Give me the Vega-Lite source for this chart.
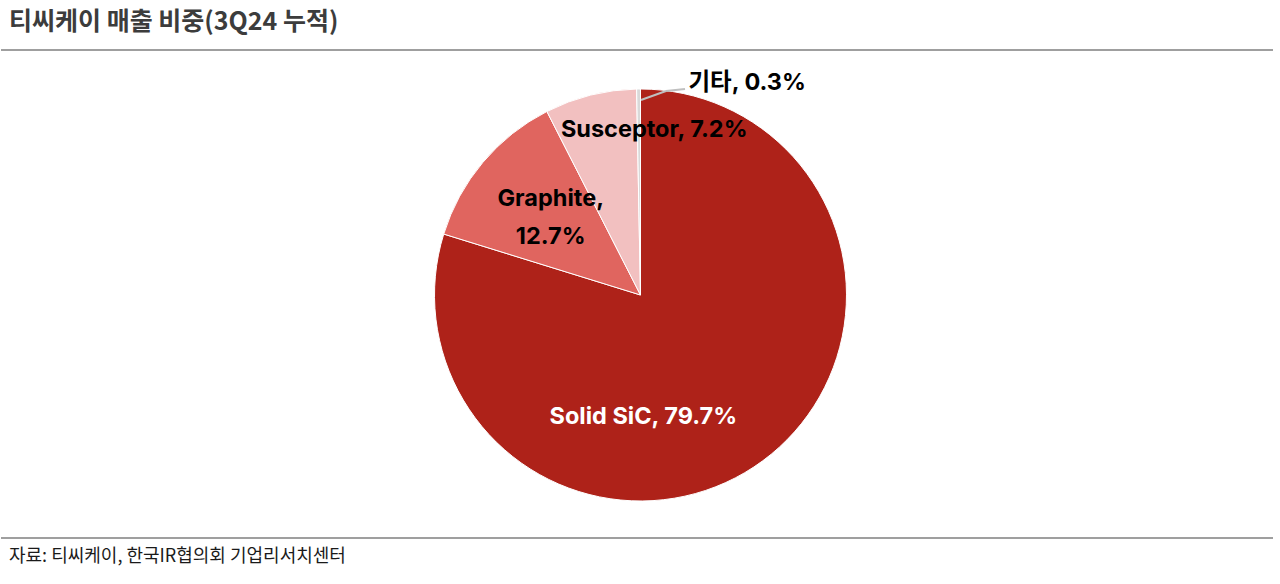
{
  "$schema": "https://vega.github.io/schema/vega-lite/v6.json",
  "width": 1280,
  "height": 584,
  "autosize": {"type": "fit", "contains": "padding"},
  "padding": {"top": 6, "left": 0, "right": 0, "bottom": 0},
  "background": "white",
  "config": {"view": {"stroke": null}},
  "datasets": {
    "sales": [
      {"category": "Solid SiC", "share": 79.7, "label": "Solid SiC, 79.7%"},
      {"category": "Graphite", "share": 12.7, "label": "Graphite,\n12.7%"},
      {"category": "Susceptor", "share": 7.2, "label": "Susceptor, 7.2%"},
      {"category": "기타", "share": 0.3, "label": "기타, 0.3%"}
    ],
    "header": [
      {"title": "티씨케이 매출 비중(3Q24 누적)", "source": "자료: 티씨케이, 한국IR협의회 기업리서치센터"}
    ]
  },
  "data": {"name": "sales"},
  "layer": [
    {
      "mark": {"type": "arc", "outerRadius": 206, "stroke": "white", "strokeWidth": 1},
      "encoding": {
        "theta": {"field": "share", "type": "quantitative", "stack": true},
        "order": {"field": "share", "type": "quantitative", "sort": "descending"},
        "color": {
          "field": "category", "type": "nominal", "legend": null,
          "scale": {"domain": ["Solid SiC", "Graphite", "Susceptor", "기타"], "range": ["#AE2219", "#E0655F", "#F2C0C0", "#D9D9D9"]}
        }
      }
    },
    {
      "mark": {"type": "text", "fontSize": 23.5, "fontWeight": "bold", "font": "Inter, Noto Sans CJK KR", "color": "white", "align": "center", "baseline": "middle", "dx": -85, "dy": 3},
      "encoding": {
        "theta": {"field": "share", "type": "quantitative", "stack": true},
        "order": {"field": "share", "type": "quantitative", "sort": "descending"},
        "radius": {"value": 148},
        "text": {"condition": {"test": "datum.category == 'Solid SiC'", "field": "label"}, "value": ""}
      }
    },
    {
      "mark": {"type": "text", "fontSize": 23.5, "fontWeight": "bold", "font": "Inter, Noto Sans CJK KR", "color": "black", "align": "center", "baseline": "middle", "lineBreak": "\n", "lineHeight": 38, "dx": 2, "dy": -19},
      "encoding": {
        "theta": {"field": "share", "type": "quantitative", "stack": true},
        "order": {"field": "share", "type": "quantitative", "sort": "descending"},
        "radius": {"value": 120},
        "text": {"condition": {"test": "datum.category == 'Graphite'", "field": "label"}, "value": ""}
      }
    },
    {
      "mark": {"type": "text", "fontSize": 23.5, "fontWeight": "bold", "font": "Inter, Noto Sans CJK KR", "color": "black", "align": "center", "baseline": "middle", "dx": 55, "dy": 0},
      "encoding": {
        "theta": {"field": "share", "type": "quantitative", "stack": true},
        "order": {"field": "share", "type": "quantitative", "sort": "descending"},
        "radius": {"value": 170},
        "text": {"condition": {"test": "datum.category == 'Susceptor'", "field": "label"}, "value": ""}
      }
    },
    {
      "mark": {"type": "text", "fontSize": 23.5, "fontWeight": "bold", "font": "Inter, Noto Sans CJK KR", "color": "black", "align": "left", "baseline": "middle", "dx": 50, "dy": 3},
      "encoding": {
        "theta": {"field": "share", "type": "quantitative", "stack": true},
        "order": {"field": "share", "type": "quantitative", "sort": "descending"},
        "radius": {"value": 215},
        "text": {"condition": {"test": "datum.category == '기타'", "field": "label"}, "value": ""}
      }
    },
    {
      "data": {"name": "header"},
      "mark": {"type": "rule", "color": "#BFBFBF", "strokeWidth": 2},
      "encoding": {
        "x": {"value": 640},
        "x2": {"value": 665},
        "y": {"value": 94},
        "y2": {"value": 85}
      }
    },
    {
      "data": {"name": "header"},
      "mark": {"type": "rule", "color": "#BFBFBF", "strokeWidth": 2},
      "encoding": {
        "x": {"value": 665},
        "x2": {"value": 684},
        "y": {"value": 85},
        "y2": {"value": 83}
      }
    },
    {
      "data": {"name": "header"},
      "mark": {"type": "text", "fontSize": 25, "fontWeight": "bold", "font": "Noto Sans CJK KR", "color": "#3C3C3C", "align": "left", "baseline": "middle", "letterSpacing": -0.7},
      "encoding": {
        "x": {"value": 8},
        "y": {"value": 16},
        "text": {"field": "title"}
      }
    },
    {
      "data": {"name": "header"},
      "mark": {"type": "text", "fontSize": 18, "font": "Noto Sans CJK KR", "color": "#1A1A1A", "align": "left", "baseline": "middle", "letterSpacing": -0.6},
      "encoding": {
        "x": {"value": 8},
        "y": {"value": 551},
        "text": {"field": "source"}
      }
    },
    {
      "data": {"name": "header"},
      "mark": {"type": "rule", "color": "#7F7F7F", "strokeWidth": 1.5},
      "encoding": {
        "x": {"value": 0},
        "x2": {"value": 1272},
        "y": {"value": 44},
        "y2": {"value": 44}
      }
    },
    {
      "data": {"name": "header"},
      "mark": {"type": "rule", "color": "#7F7F7F", "strokeWidth": 1.5},
      "encoding": {
        "x": {"value": 0},
        "x2": {"value": 1272},
        "y": {"value": 532},
        "y2": {"value": 532}
      }
    }
  ]
}
